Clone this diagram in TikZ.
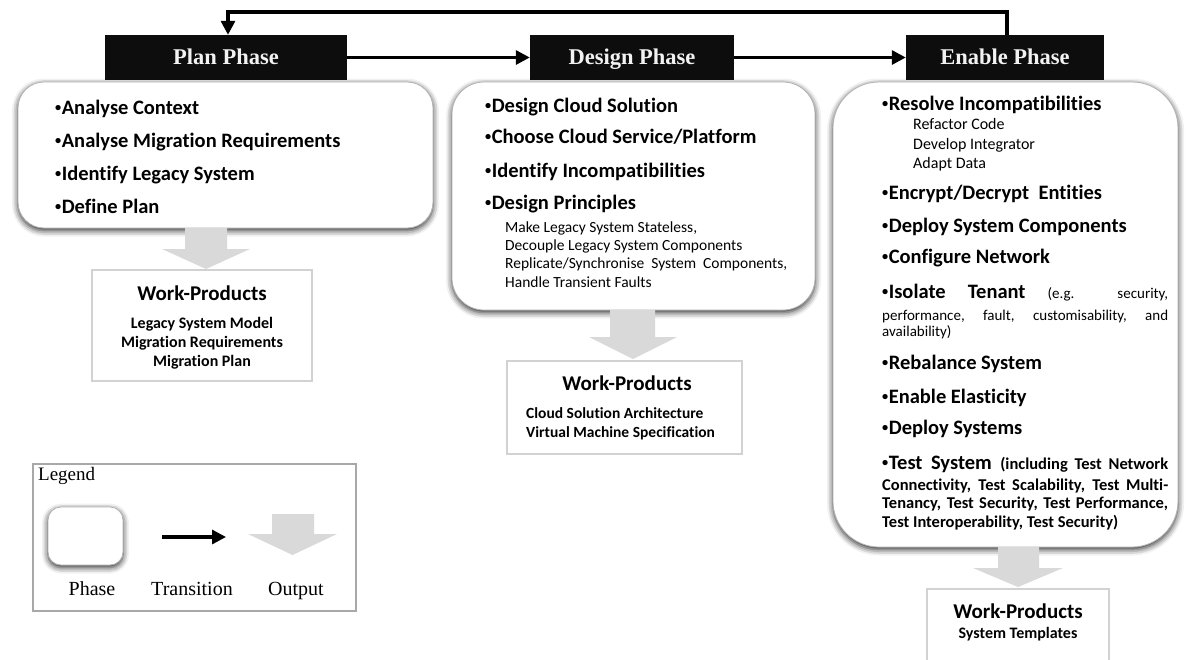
\documentclass[tikz,border=0pt]{standalone}
\usepackage{fontspec}
\setmainfont{Liberation Serif}
\newfontfamily\calfont[Ligatures=NoCommon]{Carlito}
\usetikzlibrary{arrows.meta,shadows.blur}
\definecolor{outgray}{HTML}{D9D9D9}
\definecolor{wpgray}{HTML}{D2D2D2}
\definecolor{hdtext}{HTML}{F2F2F2}
\definecolor{leggray}{HTML}{A8A8A8}
\newcommand\bul{\raisebox{0.3ex}{\scalebox{0.6}{•}}\hspace{0.5pt}}
\begin{document}
\begin{tikzpicture}[x=1pt,y=-1pt,
  phasebox/.style={draw=black!30, line width=0.8pt, fill=white, inner sep=0pt,
    blur shadow={shadow blur radius=6pt, shadow xshift=0pt, shadow yshift=-2.5pt, shadow opacity=85}},
  header/.style={fill=black!95, text=hdtext, inner sep=0pt, minimum height=45pt,
    text height=14pt, text depth=0pt,
    font=\fontsize{22.5}{26}\selectfont\bfseries},
  trans/.style={line width=3.2pt, -{Triangle[length=14pt,width=14pt]}},
  wpbox/.style={draw=wpgray, line width=2.8pt, fill=white, inner sep=0pt},
  itm/.style={inner sep=0pt, anchor=base west, font=\calfont\fontsize{20.5}{24}\selectfont\bfseries},
  subitm/.style={inner sep=0pt, anchor=base west, font=\calfont\fontsize{15.5}{18}\selectfont},
  smalltxt/.style={inner sep=0pt, anchor=base west, font=\calfont\fontsize{15}{18}\selectfont},
  testtxt/.style={inner sep=0pt, anchor=base west, font=\calfont\fontsize{16.5}{19}\selectfont\bfseries},
  wphead/.style={inner sep=0pt, anchor=base, font=\calfont\fontsize{21}{24}\selectfont\bfseries},
  wpline/.style={inner sep=0pt, anchor=base, font=\calfont\fontsize{16}{19}\selectfont\bfseries},
  wplinel/.style={inner sep=0pt, anchor=base west, font=\calfont\fontsize{15.5}{19}\selectfont\bfseries},
  legtxt/.style={inner sep=0pt, anchor=base, font=\fontsize{20}{24}\selectfont}
]
\useasboundingbox (0,0) rectangle (1189,659);

% ---------- phase boxes ----------
\node[phasebox, rounded corners=26pt, minimum width=415pt, minimum height=146pt] (planbox) at (225.5,155) {};
\node[phasebox, rounded corners=32pt, minimum width=363pt, minimum height=228pt] (desbox) at (633.5,196) {};
\node[phasebox, rounded corners=46pt, minimum width=345pt, minimum height=465pt] (enbox) at (1005.5,314.5) {};

% ---------- headers ----------
\node[header, minimum width=242pt] (planh) at (226,57.5) {Plan Phase};
\node[header, minimum width=204pt] (desh) at (632,57.5) {Design Phase};
\node[header, minimum width=198pt] (enh) at (1005,57.5) {Enable Phase};

% ---------- transitions ----------
\draw[trans] (planh) -- (desh);
\draw[trans] (desh) -- (enh);
\coordinate (fbr) at (1007,12);
\coordinate (fbl) at (228,12);
\draw[trans] (enh.north -| fbr) -- (fbr) -- (fbl) -- (planh.north -| fbl);

% ---------- plan items ----------
\node[itm] (p1) at (55,114) {\bul Analyse Context};
\node[itm] (p2) at (55,147) {\bul Analyse Migration Requirements};
\node[itm] (p3) at (55,180) {\bul Identify Legacy System};
\node[itm] (p4) at (55,213) {\bul Define Plan};

% ---------- design items ----------
\node[itm] (d1) at (485,112) {\bul Design Cloud Solution};
\node[itm] (d2) at (485,143) {\bul Choose Cloud Service/Platform};
\node[itm] (d3) at (485,177) {\bul Identify Incompatibilities};
\node[itm] (d4) at (485,209) {\bul Design Principles};
\node[subitm] (d5) at (505,232) {Make Legacy System Stateless,};
\node[subitm] (d6) at (505,250) {Decouple Legacy System Components};
\node[subitm] (d7) at (505,268) {Replicate/Synchronise\ \ System\ \ Components,};
\node[subitm] (d8) at (505,287) {Handle Transient Faults};

% ---------- enable items ----------
\node[itm] (e1) at (882,110) {\bul Resolve Incompatibilities};
\node[subitm, font=\calfont\fontsize{16}{18}\selectfont] (e1a) at (913,129) {Refactor Code};
\node[subitm, font=\calfont\fontsize{16}{18}\selectfont] (e1b) at (913,149) {Develop Integrator};
\node[subitm, font=\calfont\fontsize{16}{18}\selectfont] (e1c) at (913,168) {Adapt Data};
\node[itm] (e2) at (882,199) {\bul Encrypt/Decrypt\ \ Entities};
\node[itm] (e3) at (882,232) {\bul Deploy System Components};
\node[itm] (e4) at (882,263) {\bul Configure Network};
\node[itm] (e5) at (882,298) {\makebox[286pt][s]{\bul Isolate Tenant {\mdseries\fontsize{15}{18}\selectfont (e.g. security,}}};
\node[smalltxt] (e5b) at (882,320) {\makebox[286pt][s]{performance, fault, customisability, and}};
\node[smalltxt] (e5c) at (882,336) {availability)};
\node[itm] (e6) at (882,369) {\bul Rebalance System};
\node[itm] (e7) at (882,403) {\bul Enable Elasticity};
\node[itm] (e8) at (882,434) {\bul Deploy Systems};
\node[itm] (e9) at (882,469) {\makebox[286pt][s]{\bul Test System {\fontsize{16.5}{19}\selectfont (including Test Network}}};
\node[testtxt] (e9b) at (882,490) {\makebox[286pt][s]{Connectivity, Test Scalability, Test Multi-}};
\node[testtxt] (e9c) at (882,508) {\makebox[286pt][s]{Tenancy, Test Security, Test Performance,}};
\node[testtxt] (e9d) at (882,527) {Test Interoperability, Test Security)};

% ---------- output arrows ----------
\fill[outgray] (185,228) -- (227,228) -- (227,249) -- (250,249) -- (206,269) -- (162,249) -- (185,249) -- cycle;
\fill[outgray] (610,310) -- (655,310) -- (655,337) -- (677,337) -- (633,359) -- (589,337) -- (610,337) -- cycle;
\fill[outgray] (998,547) -- (1039,547) -- (1039,568) -- (1063,568) -- (1018,587) -- (973,568) -- (998,568) -- cycle;

% ---------- work products ----------
\node[wpbox, minimum width=220pt, minimum height=111pt] (planwp) at (202,325.5) {};
\node[wphead] (pw0) at (202,300) {Work-Products};
\node[wpline] (pw1) at (202,328) {Legacy System Model};
\node[wpline] (pw2) at (202,347) {Migration Requirements};
\node[wpline] (pw3) at (202,366) {Migration Plan};

\node[wpbox, minimum width=235pt, minimum height=93pt] (deswp) at (624.5,407.5) {};
\node[wphead] (dw0) at (627,390) {Work-Products};
\node[wplinel] (dw1) at (526,418) {Cloud Solution Architecture};
\node[wplinel] (dw2) at (526,437) {Virtual Machine Specification};

\node[wpbox, minimum width=182pt, minimum height=110pt] (enwp) at (1018,644) {};
\node[wphead] (ew0) at (1018,618) {Work-Products};
\node[wpline] (ew1) at (1018,638) {System Templates};

% ---------- legend ----------
\node[draw=leggray, line width=1.2pt, minimum width=323pt, minimum height=147pt, inner sep=0pt] (legend) at (194.5,537.5) {};
\node[inner sep=0pt, anchor=base west, font=\fontsize{19}{22}\selectfont] (legt) at (38,480) {Legend};
\node[phasebox, rounded corners=13pt, minimum width=75pt, minimum height=58pt] (legphase) at (85.5,536) {};
\coordinate (la1) at (162,537);
\coordinate (la2) at (226,537);
\draw[trans] (la1) -- (la2);
\fill[outgray] (272,514) -- (314,514) -- (314,534) -- (337,534) -- (292.5,555) -- (248,534) -- (272,534) -- cycle;
\node[legtxt] (lp) at (92,595) {Phase};
\node[legtxt] (lt) at (192,595) {Transition};
\node[legtxt] (lo) at (296,595) {Output};
\end{tikzpicture}
\end{document}
